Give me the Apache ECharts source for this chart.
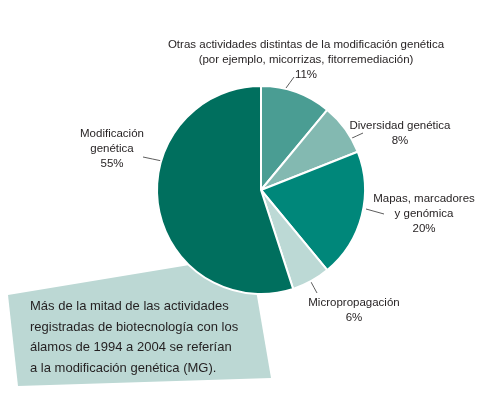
<!DOCTYPE html>
<html>
<head>
<meta charset="utf-8">
<style>
  html, body { margin: 0; padding: 0; background: #fff; }
  #main { width: 483px; height: 398px; }
</style>
<script src="https://cdn.jsdelivr.net/npm/echarts@6/dist/echarts.min.js"></script>
</head>
<body>
<div id="main"></div>
<script>
// datos del gráfico (porcentajes de actividades)
var categories = [
  'Otras actividades distintas de la modificación genética\n(por ejemplo, micorrizas, fitorremediación)',
  'Diversidad genética',
  'Mapas, marcadores\ny genómica',
  'Micropropagación',
  'Modificación\ngenética'
];
var values = [11, 8, 20, 6, 55];
var colors = ['#4a9d93', '#83b9b1', '#00877a', '#bcd9d5', '#006f5e'];
var note = [
  'Más de la mitad de las actividades',
  'registradas de biotecnología con los',
  'álamos de 1994 a 2004 se referían',
  'a la modificación genética (MG).'
];

// posición de cada etiqueta y de su línea guía
var labelPos = [[306, 60], [400, 133], [424, 214], [354, 310], [112, 149]];
var leaderLines = [
  [[286, 88], [294, 77]],
  [[350, 139], [363, 133]],
  [[366, 209], [384, 214]],
  [[311, 282], [317, 293]],
  [[162, 161], [143, 157]]
];

var chart = echarts.init(document.getElementById('main'), null, { renderer: 'canvas' });

var pieData = values.map(function (v, i) {
  return { value: v, name: categories[i], itemStyle: { color: colors[i] } };
});

var option = {
  backgroundColor: '#ffffff',
  animation: false,
  textStyle: { fontFamily: 'Liberation Sans, Arial, sans-serif' },
  graphic: [
    {
      type: 'polygon',
      z: 0,
      shape: { points: [[8, 295], [250, 255], [271, 378], [18, 386]] },
      style: { fill: '#bcd8d4' }
    },
    {
      type: 'text',
      z: 10,
      left: 30,
      top: 296,
      style: {
        text: note.join('\n'),
        font: '13px "Liberation Sans", Arial, sans-serif',
        lineHeight: 20.7,
        fill: '#231f20'
      }
    }
  ],
  series: [{
    type: 'pie',
    z: 5,
    center: [261, 190],
    radius: [0, 104],
    startAngle: 90,
    clockwise: true,
    data: pieData,
    itemStyle: { borderColor: '#ffffff', borderWidth: 2 },
    emphasis: { disabled: true },
    label: {
      show: true,
      position: 'outside',
      formatter: '{b}\n{d}%',
      fontSize: 11.5,
      lineHeight: 14.7,
      color: '#231f20',
      align: 'center',
      overflow: 'none'
    },
    labelLine: {
      show: true,
      length: 8,
      length2: 4,
      lineStyle: { color: '#333333', width: 0.8 }
    },
    labelLayout: function (params) {
      var i = params.dataIndex;
      var a = leaderLines[i][0], b = leaderLines[i][1];
      return {
        x: labelPos[i][0],
        y: labelPos[i][1],
        width: 400,
        align: 'center',
        verticalAlign: 'middle',
        labelLinePoints: [a, [(a[0] + b[0]) / 2, (a[1] + b[1]) / 2], b]
      };
    }
  }]
};

chart.setOption(option);
</script>
</body>
</html>
